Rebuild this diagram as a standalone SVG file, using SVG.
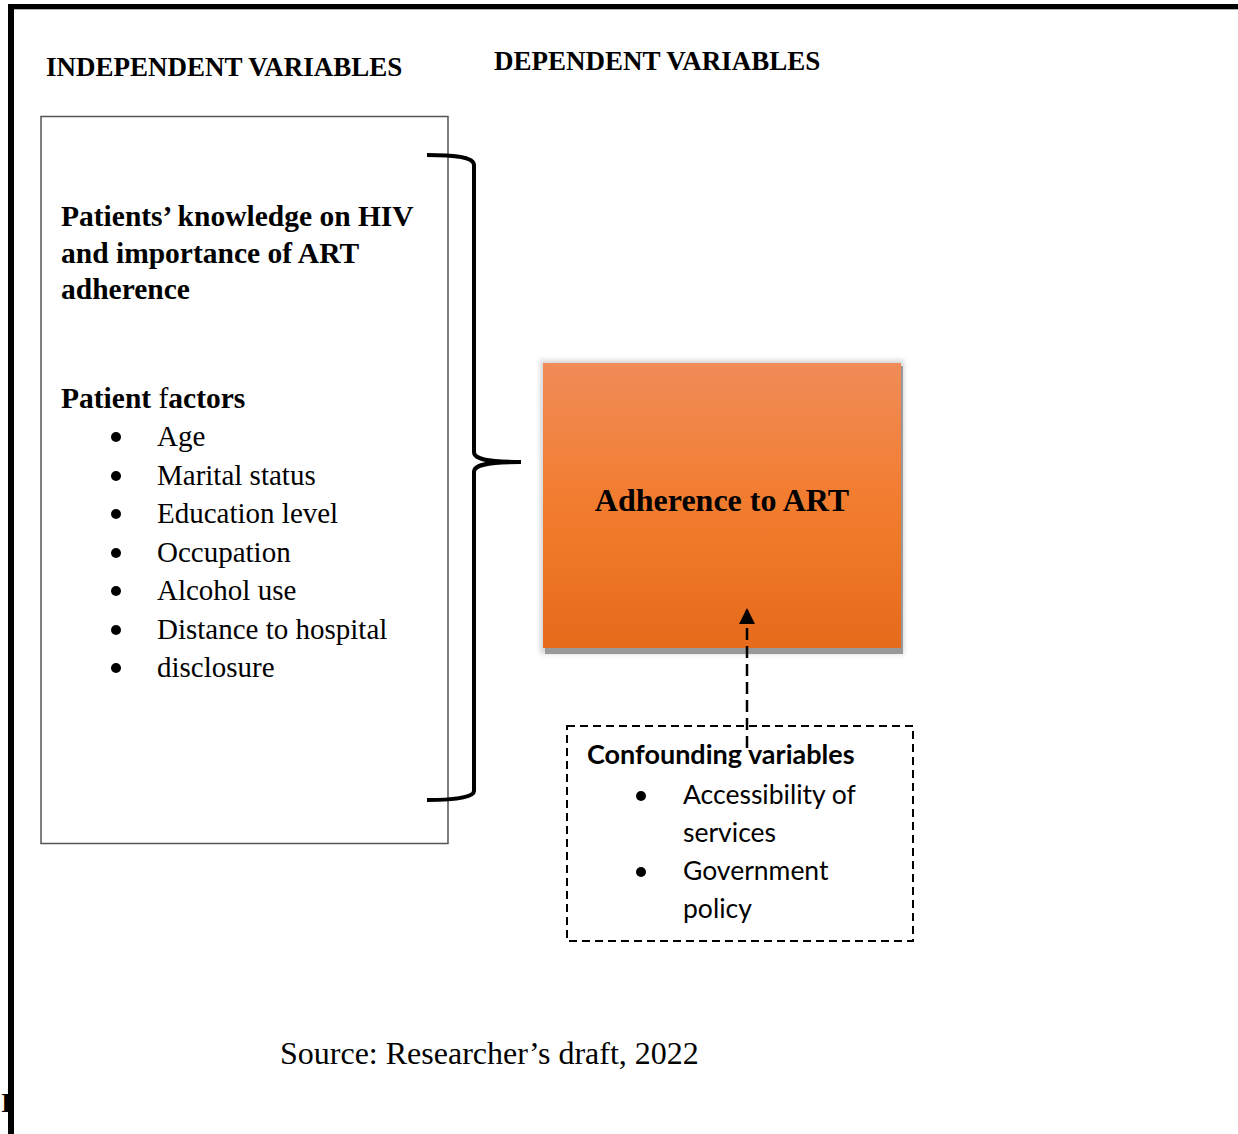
<svg xmlns="http://www.w3.org/2000/svg" width="1238" height="1134" viewBox="0 0 1238 1134">
<style>
.serif{font-family:"Liberation Serif","Times New Roman",serif;fill:#000}
.b{font-weight:bold}
.sans{font-family:Lato,"Open Sans",sans-serif;fill:#000}
.item{font-size:29px}
.citem{font-size:26.5px}
.dot{fill:#000}
</style>
<defs>
<linearGradient id="og" x1="0" y1="0" x2="0" y2="1">
<stop offset="0" stop-color="#F08C58"/>
<stop offset="0.5" stop-color="#F27C2E"/>
<stop offset="1" stop-color="#E66B1B"/>
</linearGradient>
<filter id="blur" x="-10%" y="-10%" width="120%" height="120%"><feGaussianBlur stdDeviation="2.5"/></filter>
<marker id="ah" viewBox="0 0 16 16" refX="15" refY="8" markerWidth="16" markerHeight="16" markerUnits="userSpaceOnUse" orient="auto">
<path d="M0,0 L16,8 L0,16 z" fill="#000"/>
</marker>
</defs>
<rect width="1238" height="1134" fill="#fff"/>

<text class="serif b" x="1" y="1112" font-size="27">I</text>
<g id="frame">
<rect x="8" y="4" width="1230" height="5.3" fill="#000"/>
<rect x="8" y="4" width="6" height="1130" fill="#000"/>
</g>

<g id="headers">
<text class="serif b" x="46" y="76" font-size="27">INDEPENDENT VARIABLES</text>
<text class="serif b" x="494" y="70" font-size="27">DEPENDENT VARIABLES</text>
</g>

<g id="independent">
<rect x="41" y="116.5" width="407" height="727" fill="#fff" stroke="#555" stroke-width="1.5"/>
<text class="serif b" font-size="29.5"><tspan x="61" y="226">Patients’ knowledge on HIV</tspan><tspan x="61" y="263">and importance of ART</tspan><tspan x="61" y="299">adherence</tspan></text>
<text class="serif" x="61" y="408" font-size="29.5"><tspan class="b">Patient </tspan><tspan>f</tspan><tspan class="b">actors</tspan></text>
<g class="dot">
<circle cx="116" cy="437" r="5"/>
<circle cx="116" cy="476" r="5"/>
<circle cx="116" cy="514" r="5"/>
<circle cx="116" cy="553" r="5"/>
<circle cx="116" cy="591" r="5"/>
<circle cx="116" cy="630" r="5"/>
<circle cx="116" cy="668" r="5"/>
</g>
<g class="serif item">
<text x="157" y="446">Age</text>
<text x="157" y="485">Marital status</text>
<text x="157" y="523">Education level</text>
<text x="157" y="562">Occupation</text>
<text x="157" y="600">Alcohol use</text>
<text x="157" y="639">Distance to hospital</text>
<text x="157" y="677">disclosure</text>
</g>
</g>

<g id="adherence">
<rect x="540" y="360" width="364" height="294" fill="#bbb" filter="url(#blur)" opacity="0.6"/>
<rect x="545" y="366" width="358" height="288" fill="#999"/>
<rect x="543" y="363" width="358" height="285" fill="url(#og)"/>
<text class="serif b" x="722" y="511" font-size="32" text-anchor="middle">Adherence to ART</text>
</g>

<g id="confounding">
<rect x="567" y="726" width="346" height="215" fill="none" stroke="#000" stroke-width="2" stroke-dasharray="8,5"/>
<text class="sans b" x="587" y="764" font-size="27">Confounding variables</text>
<g class="dot">
<circle cx="641" cy="796" r="5"/>
<circle cx="641" cy="872" r="5"/>
</g>
<g class="sans citem">
<text x="683" y="804">Accessibility of</text>
<text x="683" y="842">services</text>
<text x="683" y="880">Government</text>
<text x="683" y="918">policy</text>
</g>
</g>

<g id="connectors">
<path d="M427,155 C450,155 474,156 474,165 L474,452 C474,460 490,462 521,462 C490,462 474,464 474,472 L474,791 C474,798 450,800 427,800" fill="none" stroke="#000" stroke-width="4"/>
<line x1="747" y1="748" x2="747" y2="609" stroke="#000" stroke-width="2.5" stroke-dasharray="12,6" marker-end="url(#ah)"/>
</g>

<text class="serif" x="280" y="1064" font-size="32">Source: Researcher’s draft, 2022</text>
</svg>
